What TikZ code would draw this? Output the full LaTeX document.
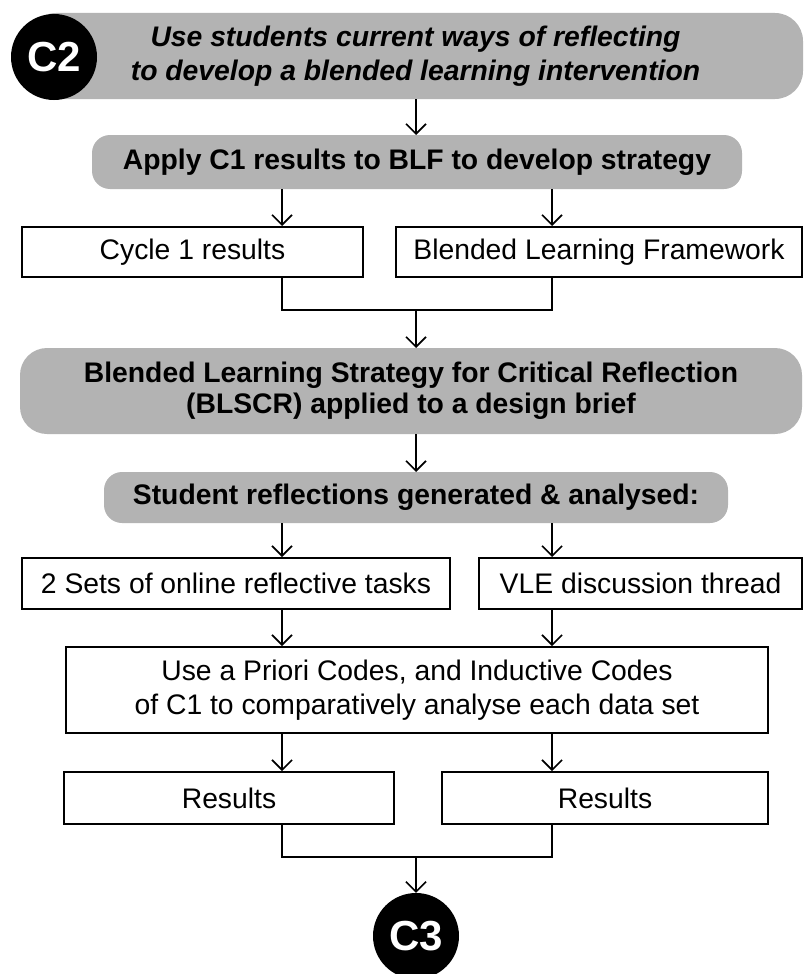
\documentclass[tikz,border=0pt]{standalone}
\usepackage{fontspec}
\setmainfont{Liberation Sans}
\usetikzlibrary{arrows.meta}
\definecolor{boxgray}{RGB}{179,179,179}
\tikzset{
  gbox/.style={fill=boxgray, draw=none, rounded corners=#1, inner sep=0pt, outer sep=0pt, align=center,
    font=\fontsize{28.3}{33}\selectfont\bfseries},
  wbox/.style={fill=white, draw=black, line width=2pt, inner sep=0pt, align=center,
    font=\fontsize{28.3}{34}\selectfont},
  badge/.style={circle, fill=black, draw=none, inner sep=0pt, minimum size=86pt, text=white,
    font=\fontsize{42}{42}\selectfont\bfseries},
  conn/.style={line width=1.6pt, draw=black},
  arr/.style={conn, -{Straight Barb[length=10pt,width=20pt,line width=1.6pt]}},
}
\begin{document}
\begin{tikzpicture}[x=1pt,y=-1pt]
\useasboundingbox (0,0) rectangle (803,974);
\coordinate (a1) at (282,0);
\coordinate (a2) at (552,0);
\coordinate (ac) at (416,0);
% top
\node[gbox=28pt, minimum width=775pt, minimum height=86pt, font=\fontsize{28.3}{34}\selectfont\bfseries\itshape] (top) at (415.5,56)
  {Use students current ways of reflecting\\to develop a blended learning intervention};
\node[badge] (c2) at (54,57) {C2};
\node[gbox=18pt, minimum width=650pt, minimum height=54pt] (apply) at (417,162) {Apply C1 results to BLF to develop strategy};
\node[wbox, minimum width=341pt, minimum height=50pt] (cyc) at (192.5,252) {Cycle 1 results};
\node[wbox, minimum width=406pt, minimum height=50pt] (blf) at (599,252) {Blended Learning Framework};
\coordinate (j1) at (416,310);
\node[gbox=27pt, minimum width=782pt, minimum height=86pt, font=\fontsize{28.3}{31}\selectfont\bfseries] (blscr) at (411,391)
  {Blended Learning Strategy for Critical Reflection\\(BLSCR) applied to a design brief};
\node[gbox=18pt, minimum width=624pt, minimum height=51pt] (stud) at (416,497.5) {Student reflections generated \& analysed:};
\node[wbox, minimum width=428pt, minimum height=51pt] (sets) at (236,583.5) {2 Sets of online reflective tasks};
\node[wbox, minimum width=323pt, minimum height=51pt] (vle) at (640.5,583.5) {VLE discussion thread};
\node[wbox, minimum width=702pt, minimum height=86pt] (priori) at (417,690)
  {Use a Priori Codes, and Inductive Codes\\of C1 to comparatively analyse each data set};
\node[wbox, minimum width=330pt, minimum height=52pt] (res1) at (229,798) {Results};
\node[wbox, minimum width=326pt, minimum height=52pt] (res2) at (605,798) {Results};
\coordinate (j2) at (416,857);
\node[badge] (c3) at (416,936) {C3};
% connectors
\draw[arr] (top.south -| ac) -- (apply.north -| ac);
\draw[arr] (apply.south -| a1) -- (cyc.north -| a1);
\draw[arr] (apply.south -| a2) -- (blf.north -| a2);
\draw[conn] (cyc.south -| a1) |- (j1) -| (blf.south -| a2);
\draw[arr] (j1) -- (blscr.north -| ac);
\draw[arr] (blscr.south -| ac) -- (stud.north -| ac);
\draw[arr] (stud.south -| a1) -- (sets.north -| a1);
\draw[arr] (stud.south -| a2) -- (vle.north -| a2);
\draw[arr] (sets.south -| a1) -- (priori.north -| a1);
\draw[arr] (vle.south -| a2) -- (priori.north -| a2);
\draw[arr] (priori.south -| a1) -- (res1.north -| a1);
\draw[arr] (priori.south -| a2) -- (res2.north -| a2);
\draw[conn] (res1.south -| a1) |- (j2) -| (res2.south -| a2);
\draw[arr] (j2) -- (c3.north);
\end{tikzpicture}
\end{document}
